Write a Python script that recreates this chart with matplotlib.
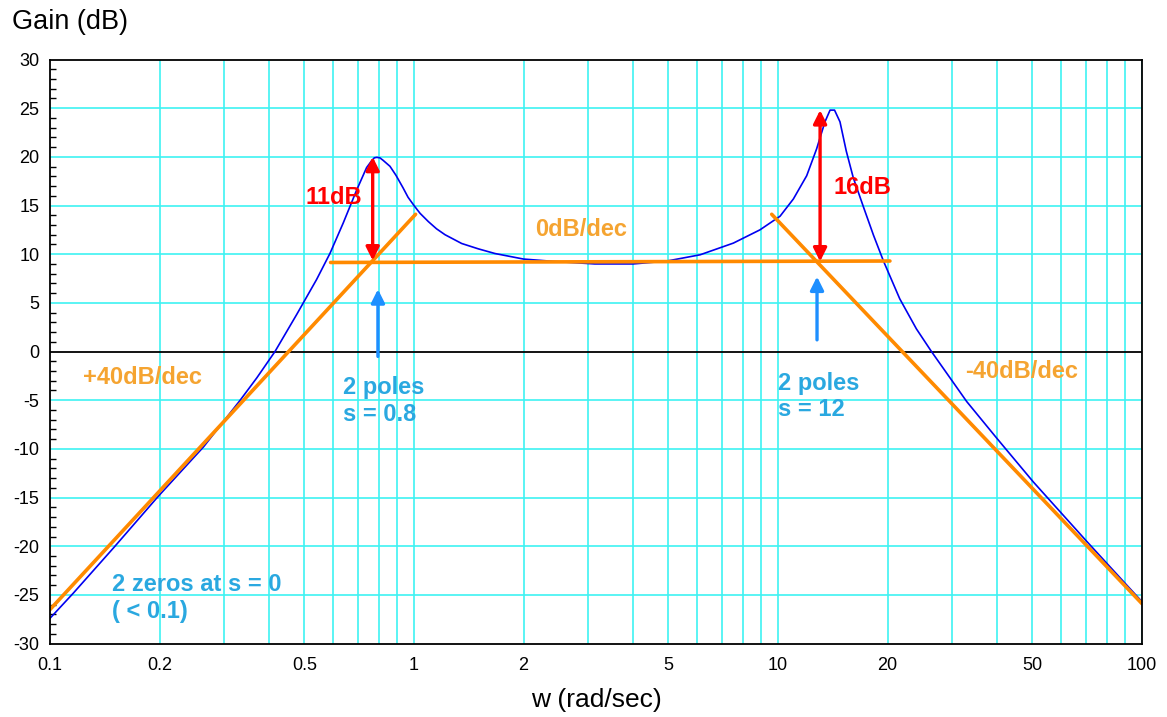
import matplotlib
matplotlib.use('Agg')
import matplotlib.pyplot as plt
from matplotlib.ticker import MultipleLocator, NullLocator

plt.rcParams['font.family'] = ['Liberation Sans', 'DejaVu Sans']
plt.rcParams['axes.unicode_minus'] = False

# ---- data ----
freq = [0.1, 0.116, 0.15, 0.198, 0.264, 0.333, 0.37, 0.415, 0.476, 0.54,
        0.588, 0.639, 0.696, 0.741, 0.765, 0.778, 0.79, 0.806, 0.822, 0.859,
        0.892, 0.933, 0.963, 1.0, 1.039, 1.095, 1.153, 1.217, 1.352, 1.502,
        1.669, 2.0, 2.44, 3.14, 4.0, 4.94, 6.11, 7.54, 8.92, 10.13,
        11.02, 11.99, 12.77, 13.46, 13.9, 14.3, 14.8, 15.4, 16.1, 17.2,
        18.3, 19.5, 21.6, 24.0, 26.4, 33.0, 39.9, 50.3, 70.5, 100]
gain = [-27.4, -24.8, -20.1, -14.9, -9.8, -5.0, -2.7, 0.0, 3.8, 7.4,
        10.1, 13.2, 16.6, 18.9, 19.6, 19.9, 19.95, 19.9, 19.65, 19.03,
        18.11, 16.82, 15.85, 15.0, 14.2, 13.35, 12.61, 12.0, 11.1, 10.55,
        10.07, 9.5, 9.25, 9.0, 9.0, 9.29, 9.94, 11.14, 12.5, 13.9,
        15.67, 18.06, 20.83, 23.6, 24.8, 24.8, 23.6, 20.6, 17.85, 14.77,
        11.94, 9.27, 5.42, 2.33, 0.0, -5.14, -8.9, -13.4, -19.5, -25.7]

rise_w = [0.1, 1.01]
rise_g = [-26.5, 14.1]
flat_w = [0.59, 20.3]
flat_g = [9.15, 9.3]
fall_w = [9.61, 100]
fall_g = [14.1, -25.9]

pole_freqs = [0.77, 13.05]
peak_tops = [20.0, 24.8]
peak_bottoms = [9.35, 9.25]
peak_labels = ['11dB', '16dB']

pole_arrow_w = [0.796, 12.8]
pole_arrow_from = [-0.5, 1.2]
pole_arrow_to = [6.4, 7.7]

xtick_vals = [0.1, 0.2, 0.5, 1, 2, 5, 10, 20, 50, 100]
xtick_labels = ['0.1', '0.2', '0.5', '1', '2', '5', '10', '20', '50', '100']
ytick_vals = list(range(-30, 31, 5))
grid_x = [m * 10.0 ** e for e in (-1, 0, 1) for m in range(2, 11)]

# ---- colours ----
CYAN = '#3ef2f2'
BLUE = '#0000f0'
ORANGE = '#ff8a00'
ORANGE_TXT = '#f5a431'
BLUE_TXT = '#2aa8e0'
ARROW_BLUE = '#1e8fff'
RED = '#ff0000'

fig = plt.figure(figsize=(11.67, 7.17), dpi=100)
ax = fig.add_axes([50 / 1167, 1 - 643.6 / 717, 1092 / 1167, 584.1 / 717])
ax.set_xscale('log')
ax.set_xlim(0.1, 100)
ax.set_ylim(-30, 30)

for gx in grid_x:
    ax.axvline(gx, color=CYAN, lw=1.2, zorder=0)
for gy in ytick_vals:
    if gy not in (-30, 0, 30):
        ax.axhline(gy, color=CYAN, lw=1.2, zorder=0)
ax.axhline(0, color='black', lw=1.3, zorder=1)

ax.plot(freq, gain, color=BLUE, lw=1.2, zorder=3)
ax.plot(rise_w, rise_g, color=ORANGE, lw=2.6, zorder=4, solid_capstyle='round')
ax.plot(flat_w, flat_g, color=ORANGE, lw=2.6, zorder=4, solid_capstyle='round')
ax.plot(fall_w, fall_g, color=ORANGE, lw=2.6, zorder=4, solid_capstyle='round')

for w, top, bot in zip(pole_freqs, peak_tops, peak_bottoms):
    ax.annotate('', xy=(w, top), xytext=(w, bot),
                arrowprops=dict(arrowstyle='<|-|>', color=RED, lw=2.4,
                                mutation_scale=20, shrinkA=0, shrinkB=0),
                zorder=5)
for w, a, b in zip(pole_arrow_w, pole_arrow_from, pole_arrow_to):
    ax.annotate('', xy=(w, b), xytext=(w, a),
                arrowprops=dict(arrowstyle='-|>', color=ARROW_BLUE, lw=2.4,
                                mutation_scale=20, shrinkA=0, shrinkB=0),
                zorder=5)

bold = dict(fontsize=17, fontweight='bold', va='center', ha='left', zorder=6)
ax.text(0.502, 15.8, peak_labels[0], color=RED, **bold)
ax.text(14.25, 16.9, peak_labels[1], color=RED, **bold)
ax.text(2.15, 12.5, '0dB/dec', color=ORANGE_TXT, **bold)
ax.text(0.123, -2.7, '+40dB/dec', color=ORANGE_TXT, **bold)
ax.text(32.6, -2.1, '-40dB/dec', color=ORANGE_TXT, **bold)
ax.text(0.638, -5.05, '2 poles\ns = 0.8', color=BLUE_TXT, linespacing=1.2, **bold)
ax.text(10.02, -4.6, '2 poles\ns = 12', color=BLUE_TXT, linespacing=1.2, **bold)
ax.text(0.148, -25.3, '2 zeros at s = 0\n( < 0.1)', color=BLUE_TXT, linespacing=1.2, **bold)

ax.set_xticks(xtick_vals)
ax.set_xticklabels(xtick_labels)
ax.xaxis.set_minor_locator(NullLocator())
ax.set_yticks(ytick_vals)
ax.yaxis.set_minor_locator(MultipleLocator(1))
ax.tick_params(axis='x', which='both', length=0, pad=9.5, labelsize=13)
ax.tick_params(axis='y', which='major', length=0, pad=7.5, labelsize=13)
ax.tick_params(axis='y', which='minor', direction='in', length=4, width=1,
               left=True, right=False)
for sp in ax.spines.values():
    sp.set_linewidth(1.3)
    sp.set_color('black')
    sp.set_zorder(7)

fig.text(596 / 1167, 1 - 700 / 717, 'w (rad/sec)', ha='center', va='center', fontsize=19)
fig.text(12 / 1167, 1 - 22 / 717, 'Gain (dB)', ha='left', va='center', fontsize=19.5)

fig.savefig('out.png', dpi=100)
